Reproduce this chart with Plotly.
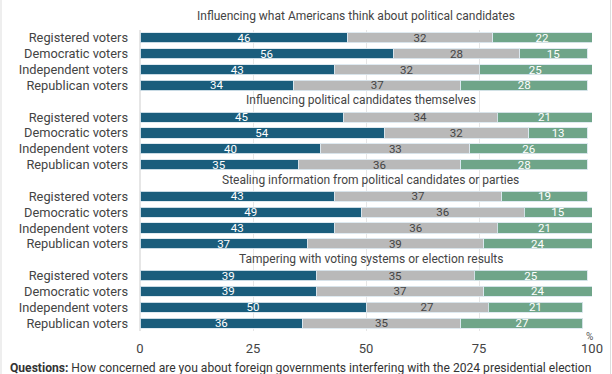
import plotly.graph_objects as go

groups = [
    "Influencing what Americans think about political candidates",
    "Influencing political candidates themselves",
    "Stealing information from political candidates or parties",
    "Tampering with voting systems or election results",
]
rows = ["Registered voters", "Democratic voters", "Independent voters", "Republican voters"]

very = [46, 56, 43, 34, 45, 54, 40, 35, 43, 49, 43, 37, 39, 39, 50, 36]
somewhat = [32, 28, 32, 37, 34, 32, 33, 36, 37, 36, 36, 39, 35, 37, 27, 35]
notvery = [22, 15, 25, 28, 21, 13, 26, 28, 19, 15, 21, 24, 25, 24, 21, 27]

x_ticks = [0, 25, 50, 75, 100]

# y slot positions: each group has a title slot followed by 4 rows
ypos = []
ylabels = []
for g in range(len(groups)):
    for r, name in enumerate(rows):
        ypos.append(5 * g + r + 1)
        ylabels.append(name)

title_x = [47.8, 48.9, 50.9, 51.3]
title_y = [-0.3, 4.9, 9.95, 14.95]

BLUE = "#1a5d7c"
GRAY = "#b9b9b9"
GREEN = "#6fa589"
edge = dict(color="rgba(220,232,240,0.9)", width=1)

fig = go.Figure()
for vals, col, tcol in [(very, BLUE, "white"), (somewhat, GRAY, "#444444"), (notvery, GREEN, "white")]:
    fig.add_trace(go.Bar(
        x=vals, y=ypos, orientation="h",
        marker=dict(color=col, line=edge),
        width=0.64,
        text=[str(v) for v in vals],
        textposition="inside", insidetextanchor="middle",
        textangle=0, constraintext="none",
        textfont=dict(family="Roboto", size=11.5, color=tcol),
        hoverinfo="skip", showlegend=False,
    ))

annotations = []
for g, t in enumerate(groups):
    if g == 0:
        annotations.append(dict(x=title_x[g], y=1 + 13.5 / 301, xref="x", yref="paper", text=t,
                                showarrow=False, font=dict(family="Roboto", size=12, color="#444444"),
                                xanchor="center", yanchor="middle"))
    else:
        annotations.append(dict(x=title_x[g], y=title_y[g], xref="x", yref="y", text=t,
                                showarrow=False, font=dict(family="Roboto", size=12, color="#444444"),
                                xanchor="center", yanchor="middle"))
annotations.append(dict(x=100, y=0, xref="x", yref="paper", text="%", showarrow=False,
                        font=dict(family="Roboto", size=10, color="#555555"),
                        xanchor="center", yanchor="middle", yshift=-5, xshift=-3))
annotations.append(dict(x=-140/452 + 8/452, y=0, xref="paper", yref="paper",
                        text="<b>Questions:</b> How concerned are you about foreign governments interfering with the 2024 presidential election",
                        showarrow=False, font=dict(family="Roboto", size=12.1, color="#333333"),
                        xanchor="left", yanchor="middle", yshift=-37))

shapes = [
    dict(type="line", xref="paper", yref="paper", x0=-139/452, x1=-139/452, y0=-0.3, y1=1.2,
         line=dict(color="#dddddd", width=1)),
    dict(type="line", xref="paper", yref="paper", x0=470.5/452, x1=470.5/452, y0=-0.3, y1=1.2,
         line=dict(color="#dddddd", width=1)),
]

fig.update_layout(
    barmode="stack",
    width=612, height=374,
    margin=dict(l=140, r=20, t=30, b=43, autoexpand=False),
    paper_bgcolor="white", plot_bgcolor="white",
    font=dict(family="Roboto", color="#444444"),
    annotations=annotations,
    shapes=shapes,
    bargap=0,
)
fig.update_xaxes(range=[0, 100], tickvals=x_ticks, ticktext=[str(v) for v in x_ticks],
                 showgrid=True, gridcolor="#e6e6e6", gridwidth=1, zeroline=True, zerolinecolor="#e6e6e6",
                 tickfont=dict(family="Roboto", size=13, color="#444444"), ticks="", ticklabelstandoff=8,
                 fixedrange=True, automargin=False)
fig.update_yaxes(range=[19.5, 0.5], tickvals=ypos, ticktext=ylabels, showgrid=False, zeroline=False,
                 tickfont=dict(family="Roboto", size=12.8, color="#444444"), ticks="",
                 ticklabelstandoff=11, fixedrange=True, automargin=False)

fig.write_html("out.html", config={"displayModeBar": False, "staticPlot": True},
               post_script="document.body.style.margin='0';document.body.style.overflow='hidden';")
